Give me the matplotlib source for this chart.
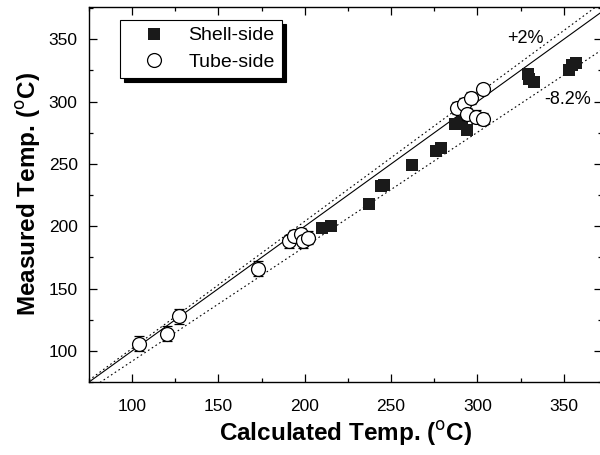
import matplotlib
matplotlib.use("Agg")
import matplotlib.pyplot as plt
from matplotlib.ticker import MultipleLocator
from matplotlib.lines import Line2D

plt.rcParams['font.family'] = ['Liberation Sans', 'DejaVu Sans']

# Shell-side (filled squares)
shell_calc = [210, 215, 237, 244, 246, 262, 276, 279, 287, 291, 294,
              329, 330, 333, 353, 355, 357]
shell_meas = [199, 200, 218, 232, 233, 249, 260, 263, 282, 284, 277,
              322, 318, 316, 325, 329, 331]

# Tube-side (open circles, with error bars)
tube_calc = [104, 120, 127, 173, 191, 194, 198, 199, 202,
             288, 292, 294, 296, 299, 303, 303]
tube_meas = [106, 114, 128, 166, 188, 192, 194, 188, 191,
             295, 298, 290, 303, 288, 310, 286]
tube_err = [6, 6, 6, 6, 5, 5, 5, 5, 5, 5, 5, 5, 5, 5, 4, 5]

line_x = [75, 380]

fig = plt.figure(figsize=(6.0, 4.55), dpi=100)
ax = fig.add_axes([0.148, 0.160, 0.855, 0.825])

ax.plot(line_x, line_x, color='black', lw=0.8, zorder=1)
ax.plot(line_x, [v * 1.02 for v in line_x], color='black', lw=0.8, ls=(0, (1.5, 2.5)), zorder=1)
ax.plot(line_x, [v * 0.918 for v in line_x], color='black', lw=0.8, ls=(0, (1.5, 2.5)), zorder=1)

ax.plot(shell_calc, shell_meas, 's', color='#1a1a1a', ms=8.5, mew=0, zorder=3)
ax.errorbar(tube_calc, tube_meas, yerr=tube_err, fmt='o', mfc='white',
            mec='black', ecolor='black', ms=10, mew=0.9, elinewidth=0.8,
            capsize=3.5, capthick=0.8, zorder=4)

ax.text(328, 351, '+2%', fontsize=13, ha='center', va='center')
ax.text(352, 302, '-8.2%', fontsize=13, ha='center', va='center')

ax.set_xlim(75, 372)
ax.set_ylim(75, 376)
ax.xaxis.set_major_locator(MultipleLocator(50))
ax.xaxis.set_minor_locator(MultipleLocator(25))
ax.yaxis.set_major_locator(MultipleLocator(50))
ax.yaxis.set_minor_locator(MultipleLocator(25))
ax.tick_params(which='both', direction='in', top=True, right=True,
               labelsize=12.5, width=0.9)
ax.tick_params(which='major', length=6)
ax.tick_params(which='minor', length=3)
ax.tick_params(axis='x', pad=12)
ax.tick_params(axis='y', pad=8)
for s in ax.spines.values():
    s.set_linewidth(1.0)

ax.set_xlabel('Calculated Temp. ($^{\\mathrm{o}}$C)', fontsize=17.5,
              fontweight='bold', labelpad=4)
ax.set_ylabel('Measured Temp. ($^{\\mathrm{o}}$C)', fontsize=17.5,
              fontweight='bold', labelpad=4)

handles = [Line2D([], [], ls='none', marker='s', color='#1a1a1a', ms=8.5, mew=0),
           Line2D([], [], ls='none', marker='o', mfc='white', mec='black', ms=10, mew=0.9)]
labels = ['Shell-side', 'Tube-side']
leg = ax.legend(handles, labels, loc='upper left', bbox_to_anchor=(0.06, 0.965),
                borderaxespad=0, fontsize=14, frameon=True, fancybox=False,
                edgecolor='black',
                shadow={'color': 'black', 'alpha': 1.0, 'ox': 3, 'oy': -3},
                borderpad=0.35, handletextpad=0.4, labelspacing=0.45,
                handlelength=2.8)
leg.get_frame().set_linewidth(0.8)

fig.savefig('out.png', dpi=100)
